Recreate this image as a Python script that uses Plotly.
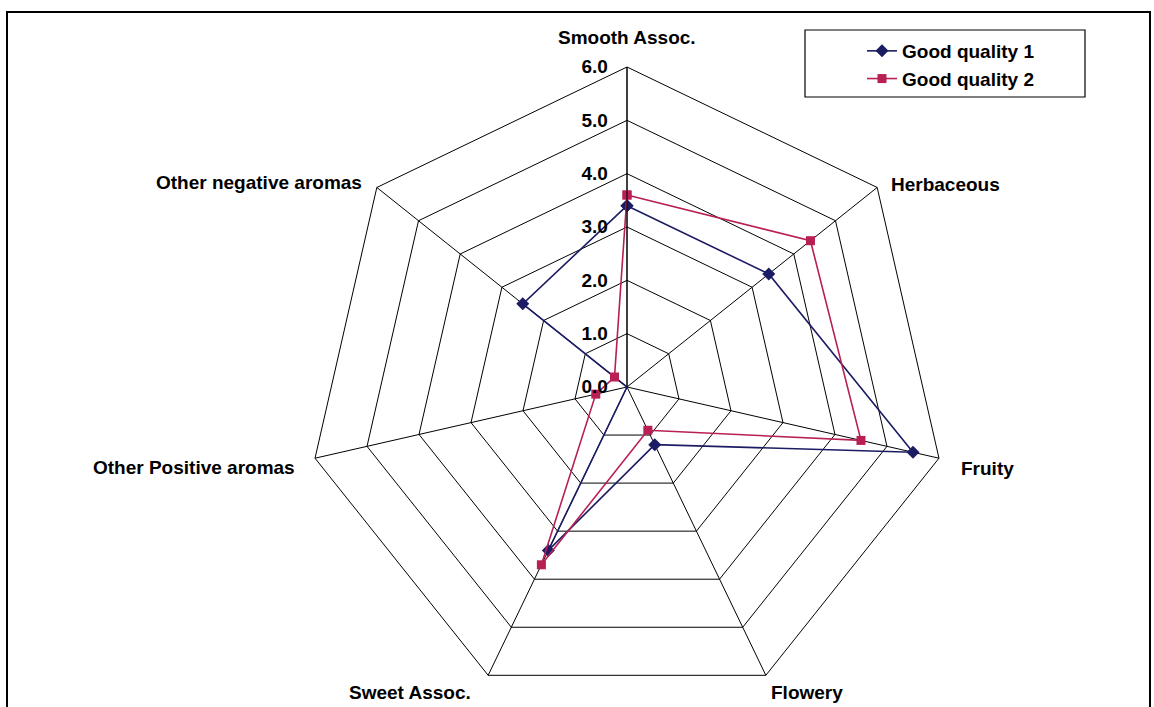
import plotly.graph_objects as go

# Aroma attributes (clockwise from the top) and panel scores
categories = ["Smooth Assoc.", "Herbaceous", "Fruity", "Flowery",
              "Sweet Assoc.", "Other Positive aromas", "Other negative aromas"]
good_quality_1 = [3.4, 3.4, 5.5, 1.2, 3.4, 0.0, 2.5]
good_quality_2 = [3.6, 4.4, 4.5, 0.9, 3.7, 0.6, 0.3]
radial_ticks = [0, 1, 2, 3, 4, 5, 6]
radial_tick_labels = ["0.0", "1.0", "2.0", "3.0", "4.0", "5.0", "6.0"]

W, H = 1154, 707
FONT = dict(family="Liberation Sans, Arial, sans-serif", size=19, color="black", weight="bold")

# category label placement in pixels: (x, y, horizontal anchor)
label_pos = {
    "Smooth Assoc.": (627, 38, "center"),
    "Herbaceous": (889, 184, "left"),
    "Fruity": (959, 468, "left"),
    "Flowery": (769, 692, "left"),
    "Sweet Assoc.": (473, 692, "right"),
    "Other Positive aromas": (297, 467, "right"),
    "Other negative aromas": (364, 183, "right"),
}


def closed(values):
    return values + values[:1]


fig = go.Figure()
fig.add_trace(go.Scatterpolar(
    r=closed(good_quality_1), theta=closed(categories), name="Good quality 1",
    mode="lines+markers",
    line=dict(color="#1c1c64", width=1.6),
    marker=dict(symbol="diamond", size=10, color="#1c1c64"),
))
fig.add_trace(go.Scatterpolar(
    r=closed(good_quality_2), theta=closed(categories), name="Good quality 2",
    mode="lines+markers",
    line=dict(color="#b81f55", width=1.6),
    marker=dict(symbol="square", size=9, color="#b81f55"),
))

annotations = [
    dict(text=name, x=x / W, y=1 - y / H, xref="paper", yref="paper",
         xanchor=anchor, yanchor="middle", showarrow=False, font=FONT)
    for name, (x, y, anchor) in label_pos.items()
]

# polar area: circle of radius R centred at (cx, cy) in pixels
cx, cy, R = 627, 387, 320
fig.update_layout(
    width=W, height=H, autosize=False,
    margin=dict(l=0, r=0, t=0, b=0),
    paper_bgcolor="white", plot_bgcolor="white",
    font=FONT,
    showlegend=True,
    legend=dict(x=862 / W, y=1 - 32 / H, xanchor="left", yanchor="top",
                bgcolor="rgba(0,0,0,0)", borderwidth=0,
                font=FONT),
    polar=dict(
        domain=dict(x=[(cx - R) / W, (cx + R) / W], y=[(H - cy - R) / H, (H - cy + R) / H]),
        gridshape="linear",
        bgcolor="white",
        angularaxis=dict(
            direction="clockwise", rotation=90,
            showline=True, linecolor="black", linewidth=1,
            gridcolor="black", gridwidth=1,
            ticks="", showticklabels=False,
        ),
        radialaxis=dict(
            range=[0, 6], angle=90, tickangle=90, side="counterclockwise",
            tickvals=radial_ticks, ticktext=radial_tick_labels,
            showline=True, linecolor="black", linewidth=1,
            gridcolor="black", gridwidth=1,
            ticks="outside", ticklen=12, tickcolor="rgba(0,0,0,0)",
            tickfont=FONT,
        ),
    ),
    annotations=annotations,
    shapes=[
        # legend frame
        dict(type="rect", xref="paper", yref="paper",
             x0=805 / W, x1=1085 / W, y0=1 - 97 / H, y1=1 - 30 / H,
             line=dict(color="black", width=1.2)),
        # outer frame
        dict(type="rect", xref="paper", yref="paper",
             x0=7 / W, x1=1150 / W, y0=-0.01, y1=1 - 12 / H,
             line=dict(color="black", width=2)),
    ],
)

fig.write_html("out.html")
